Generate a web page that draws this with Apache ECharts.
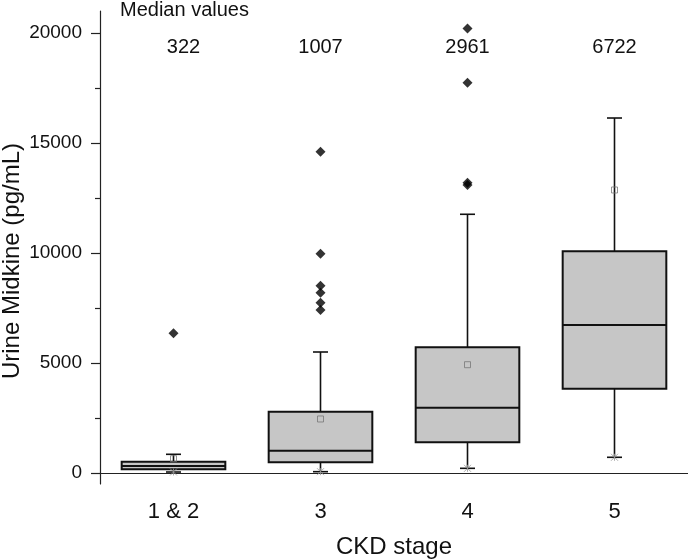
<!DOCTYPE html>
<html>
<head>
<meta charset="utf-8">
<script src="https://cdn.jsdelivr.net/npm/echarts@6.0.0/dist/echarts.min.js"></script>
<style>
  html, body { margin: 0; padding: 0; background: #ffffff; }
  #chart { width: 688px; height: 560px; }
</style>
</head>
<body>
<div id="chart"></div>
<script>
// ---- data ----
const categories = ['1 & 2', '3', '4', '5'];
const whiskerMin = [45, 60, 213, 714];
const q1 = [168, 486, 1395, 3832];
const medians = [322, 1007, 2961, 6722];
const q3 = [514, 2786, 5712, 10077];
const whiskerMax = [850, 5500, 11760, 16136];
const means = [650, 2455, 4923, 12864];
const outliers12 = [6350];
const outliers3 = [14600, 9970, 8515, 8195, 7740, 7410];
const outliers4 = [20210, 17740, 13190, 13090];
const outliers5 = [];
const majorTicks = [0, 5000, 10000, 15000, 20000];
const minorTicks = [2500, 7500, 12500, 17500];
const medianTitle = 'Median values';
const yTitle = 'Urine Midkine (pg/mL)';
const xTitle = 'CKD stage';

const FONT = "'Liberation Sans', Arial, sans-serif";

const boxData = categories.map((c, i) => [i, whiskerMin[i], q1[i], medians[i], q3[i], whiskerMax[i]]);
const outlierData = [];
[outliers12, outliers3, outliers4, outliers5].forEach((arr, i) => {
  arr.forEach(v => outlierData.push([categories[i], v]));
});
const meanData = means.map((v, i) => [categories[i], v]);
const minMarkData = whiskerMin.map((v, i) => [categories[i], v]);

const chart = echarts.init(document.getElementById('chart'), null, { renderer: 'canvas' });

function renderBox(params, api) {
  const idx = api.value(0);
  const x = api.coord([idx, 0])[0];
  const yMin = api.coord([idx, api.value(1)])[1];
  const yQ1 = api.coord([idx, api.value(2)])[1];
  const yMed = api.coord([idx, api.value(3)])[1];
  const yQ3 = api.coord([idx, api.value(4)])[1];
  const yMax = api.coord([idx, api.value(5)])[1];
  const w = api.size([1, 0])[0] * 0.705;
  const cap = 15;
  const lineStyle = { stroke: '#111', lineWidth: 1.6 };
  return {
    type: 'group',
    children: [
      { type: 'line', shape: { x1: x, y1: yQ3, x2: x, y2: yMax }, style: lineStyle },
      { type: 'line', shape: { x1: x - cap / 2, y1: yMax, x2: x + cap / 2, y2: yMax }, style: lineStyle },
      { type: 'line', shape: { x1: x, y1: yQ1, x2: x, y2: yMin }, style: lineStyle },
      { type: 'line', shape: { x1: x - cap / 2, y1: yMin, x2: x + cap / 2, y2: yMin }, style: lineStyle },
      { type: 'rect', shape: { x: x - w / 2, y: yQ3, width: w, height: yQ1 - yQ3 },
        style: { fill: '#c6c6c6', stroke: '#111', lineWidth: 2 } },
      { type: 'line', shape: { x1: x - w / 2, y1: yMed, x2: x + w / 2, y2: yMed }, style: { stroke: '#111', lineWidth: 2 } }
    ]
  };
}

const yBase = {
  type: 'value',
  min: -500,
  max: 21000,
  splitLine: { show: false }
};

const option = {
  animation: false,
  backgroundColor: '#ffffff',
  textStyle: { fontFamily: FONT },
  grid: { left: 100, right: 0, top: 11, bottom: 76, containLabel: false, outerBoundsMode: 'none' },
  xAxis: {
    type: 'category',
    data: categories,
    boundaryGap: true,
    name: xTitle,
    nameLocation: 'middle',
    nameGap: 51,
    nameTextStyle: { fontSize: 24, color: '#111', fontFamily: FONT },
    axisLine: { lineStyle: { color: '#222', width: 1.2 } },
    axisTick: { alignWithLabel: true, length: 10, lineStyle: { color: '#222', width: 1.2 } },
    axisLabel: { fontSize: 22, color: '#111', margin: 17, fontFamily: FONT },
    splitLine: { show: false }
  },
  yAxis: [
    Object.assign({}, yBase, {
      axisLine: { show: true, lineStyle: { color: '#222', width: 1.2 } },
      axisTick: { show: true, length: 9, customValues: majorTicks, lineStyle: { color: '#222', width: 1.2 } },
      axisLabel: { fontSize: 19, color: '#111', margin: 18, customValues: majorTicks, fontFamily: FONT,
        formatter: v => String(v) }
    }),
    Object.assign({}, yBase, {
      position: 'left',
      axisLine: { show: false },
      axisTick: { show: true, length: 5, customValues: minorTicks, lineStyle: { color: '#222', width: 1.2 } },
      axisLabel: { show: false }
    })
  ],
  series: [
    {
      type: 'custom',
      name: 'box',
      renderItem: renderBox,
      data: boxData,
      encode: { x: 0, y: [1, 2, 3, 4, 5] },
      z: 2
    },
    {
      type: 'scatter',
      name: 'outliers',
      data: outlierData,
      symbol: 'diamond',
      symbolSize: [10, 10],
      itemStyle: { color: '#000' },
      z: 3
    },
    {
      type: 'scatter',
      name: 'mean',
      data: meanData,
      symbol: 'rect',
      symbolSize: 6,
      itemStyle: { color: 'rgba(0,0,0,0)', borderColor: '#777', borderWidth: 1 },
      z: 4
    },
    {
      type: 'scatter',
      name: 'min',
      data: minMarkData,
      symbol: 'path://M0,0L10,10M10,0L0,10M5,0L5,10',
      symbolSize: 7,
      itemStyle: { color: 'none', borderColor: '#999', borderWidth: 1 },
      z: 4
    }
  ]
};

chart.setOption(option);

// titles and median value labels
const labelEls = [
  { type: 'text', left: 120, top: 0, style: { text: medianTitle, font: '20px ' + FONT, fill: '#111' } },
  { type: 'text', x: 12, y: 261, rotation: Math.PI / 2,
    style: { text: yTitle, font: '24px ' + FONT, fill: '#111', align: 'center', verticalAlign: 'middle' } }
];
medians.forEach((m, i) => {
  const px = chart.convertToPixel({ xAxisIndex: 0 }, categories[i]);
  labelEls.push({
    type: 'text',
    x: px + (i === 0 ? 10 : 0),
    y: 47,
    style: { text: String(m), font: '20px ' + FONT, fill: '#111', align: 'center', verticalAlign: 'middle' }
  });
});
chart.setOption({ graphic: labelEls });
</script>
</body>
</html>
